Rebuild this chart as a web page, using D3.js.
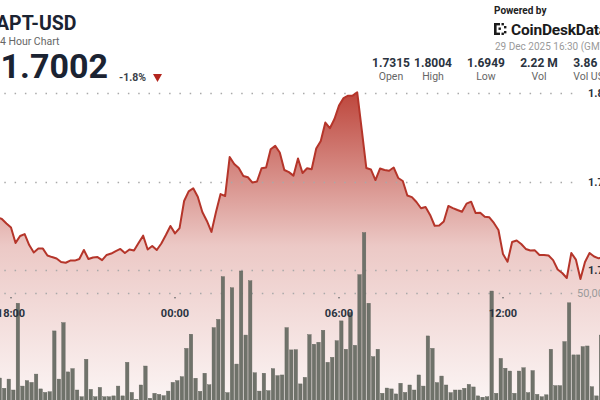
<!DOCTYPE html>
<html>
<head>
<meta charset="utf-8">
<script src="https://cdn.jsdelivr.net/npm/d3@7"></script>
<style>
  body { margin: 0; background: #fff; }
  svg { display: block; font-family: Roboto, "Open Sans", sans-serif; }
</style>
</head>
<body>
<svg width="600" height="400"></svg>
<script>
// 24h of 10 minute candles, 28 Dec 16:30 -> 29 Dec 16:30
var startTime = new Date(2025, 11, 28, 16, 30);
var stepMinutes = 10;

// close prices, one per 10 min (145 points)
var prices = [
  1.7315, 1.7311, 1.7322, 1.7305, 1.7316, 1.7299, 1.7299, 1.7288, 1.7263, 1.7240,
  1.7153, 1.7192, 1.7203, 1.7141, 1.7099, 1.7121, 1.7121, 1.7082, 1.7073, 1.7065,
  1.7045, 1.7041, 1.7053, 1.7053, 1.7062, 1.7113, 1.7062, 1.7071, 1.7073, 1.7056,
  1.7085, 1.7093, 1.7107, 1.7119, 1.7096, 1.7116, 1.7110, 1.7153, 1.7194, 1.7116,
  1.7136, 1.7113, 1.7150, 1.7198, 1.7249, 1.7207, 1.7237, 1.7390, 1.7444, 1.7462,
  1.7414, 1.7328, 1.7277, 1.7215, 1.7328, 1.7429, 1.7418, 1.7638, 1.7599, 1.7576,
  1.7531, 1.7524, 1.7494, 1.7500, 1.7575, 1.7579, 1.7682, 1.7701, 1.7664, 1.7565,
  1.7553, 1.7533, 1.7630, 1.7548, 1.7575, 1.7569, 1.7686, 1.7729, 1.7833, 1.7801,
  1.7853, 1.7929, 1.7971, 1.7985, 1.7985, 1.8004, 1.7791, 1.7576, 1.7568, 1.7508,
  1.7573, 1.7565, 1.7561, 1.7579, 1.7520, 1.7503, 1.7421, 1.7412, 1.7384, 1.7349,
  1.7356, 1.7311, 1.7250, 1.7251, 1.7274, 1.7362, 1.7350, 1.7339, 1.7329, 1.7375,
  1.7386, 1.7322, 1.7324, 1.7301, 1.7298, 1.7266, 1.7226, 1.7090, 1.7047, 1.7158,
  1.7167, 1.7147, 1.7119, 1.7110, 1.7111, 1.7085, 1.7085, 1.7082, 1.7056, 1.7003,
  1.6983, 1.6955, 1.7096, 1.7059, 1.6949, 1.7045, 1.7096, 1.7076, 1.7066, 1.7073,
  1.7045, 1.7028, 1.7017, 1.7011, 1.7002
];

// volume per 10 min (144 bars)
var volumes = [
  8000, 12000, 5000, 9000, 15000, 7000, 11000, 6300, 10500, 5500,
  45300, 7300, 9800, 9000, 12800, 6000, 4400, 4700, 32600, 10500,
  36400, 13800, 15300, 5500, 2400, 19600, 5800, 2400, 6700, 2400,
  2400, 2800, 7300, 2800, 18200, 4400, 1200, 7800, 16500, 1700,
  4000, 3500, 2900, 5000, 9000, 9800, 11600, 24600, 31100, 10900,
  4900, 13200, 7900, 34100, 37900, 57500, 4300, 52400, 17400, 60100,
  30700, 55600, 13400, 5000, 13200, 5200, 15300, 12100, 12400, 34100,
  23900, 24000, 8300, 11300, 30900, 26500, 27400, 32900, 18200, 20500,
  28100, 37200, 24200, 41100, 26000, 58400, 77700, 45300, 20800, 24200,
  4000, 6400, 6000, 3700, 8600, 4400, 7800, 5500, 12400, 7300,
  30300, 24600, 8900, 11900, 7800, 4300, 5500, 5500, 6300, 8100,
  6900, 2800, 2200, 2400, 50900, 4000, 20000, 15500, 14200, 4000,
  14200, 15700, 4300, 14400, 3500, 2400, 3300, 24200, 7500, 7500,
  27700, 45500, 21600, 21600, 25400, 25700, 7000, 2800, 30700, 18000,
  9000, 12000, 6000, 15000
];

var priceTicks = [1.70, 1.75, 1.80];
var volumeTicks = [50000];
var statValues = ["1.7315", "1.8004", "1.6949", "2.22 M", "3.86 M"];
var statLabels = ["Open", "High", "Low", "Vol", "Vol USD"];

var svg = d3.select("svg"),
    width = +svg.attr("width"),
    height = +svg.attr("height");

var times = prices.map(function (d, i) {
  return d3.timeMinute.offset(startTime, i * stepMinutes);
});

// the chart is wider than the view, both ends are cut off
var x = d3.scaleTime()
    .domain([times[0], times[times.length - 1]])
    .range([-30, 626]);

var y = d3.scaleLinear().domain([1.70, 1.80]).range([270, 93]);
var yVol = d3.scaleLinear().domain([0, 50000]).range([402, 293]);

var step = x(times[1]) - x(times[0]);

// gradient under the line
var defs = svg.append("defs");
var grad = defs.append("linearGradient")
    .attr("id", "areaFill")
    .attr("gradientUnits", "userSpaceOnUse")
    .attr("x1", 0).attr("x2", 0)
    .attr("y1", y(1.8004)).attr("y2", height);
grad.append("stop").attr("offset", "0%").attr("stop-color", "#b2261a").attr("stop-opacity", 0.85);
grad.append("stop").attr("offset", "50%").attr("stop-color", "#b2261a").attr("stop-opacity", 0.25);
grad.append("stop").attr("offset", "100%").attr("stop-color", "#b2261a").attr("stop-opacity", 0.05);

var area = d3.area()
    .x(function (d, i) { return x(times[i]); })
    .y0(height)
    .y1(function (d) { return y(d); });

var line = d3.line()
    .x(function (d, i) { return x(times[i]); })
    .y(function (d) { return y(d); });

svg.append("path")
    .datum(prices)
    .attr("fill", "url(#areaFill)")
    .attr("d", area);

// dotted grid lines
function dotted(yy) {
  svg.append("line")
      .attr("x1", 4.3).attr("x2", 577)
      .attr("y1", yy).attr("y2", yy)
      .attr("stroke", "#a9a9a9")
      .attr("stroke-width", 1.3)
      .attr("stroke-dasharray", "1.5,8.8");
}
priceTicks.forEach(function (p) { dotted(Math.round(y(p)) + 0.5); });
volumeTicks.forEach(function (v) { dotted(Math.round(yVol(v)) + 0.5); });

// volume bars
svg.append("g")
  .selectAll("rect")
  .data(volumes)
  .enter().append("rect")
    .attr("x", function (d, i) { return x(times[i]) + 0.6; })
    .attr("y", function (d) { return yVol(d); })
    .attr("width", step - 1.1)
    .attr("height", function (d) { return yVol(0) - yVol(d); })
    .attr("fill", "#6f726a")
    .attr("stroke", "#5f625a")
    .attr("stroke-width", 0.4);

svg.append("path")
    .datum(prices)
    .attr("fill", "none")
    .attr("stroke", "#b5352a")
    .attr("stroke-width", 2)
    .attr("stroke-linejoin", "round")
    .attr("d", line);

// right side labels
svg.append("g").selectAll("text")
  .data(priceTicks)
  .enter().append("text")
    .attr("x", 588)
    .attr("y", function (d) { return y(d) + 4; })
    .attr("font-size", 11)
    .attr("font-weight", 700)
    .attr("fill", "#2a3340")
    .text(function (d) { return d3.format(".2f")(d); });

svg.append("g").selectAll("text")
  .data(volumeTicks)
  .enter().append("text")
    .attr("x", 577)
    .attr("y", function (d) { return yVol(d) + 4; })
    .attr("font-size", 11)
    .attr("fill", "#9a9a9a")
    .text(function (d) { return d3.format(",")(d); });

// time labels
var hourTicks = x.ticks(d3.timeHour.every(6));
var tg = svg.append("g").selectAll("g")
  .data(hourTicks)
  .enter().append("g")
    .attr("transform", function (d) { return "translate(" + x(d) + ",0)"; });
tg.append("rect")
    .attr("x", -0.8).attr("y", 297)
    .attr("width", 1.6).attr("height", 1.4)
    .attr("fill", "#777");
tg.append("text")
    .attr("y", 317)
    .attr("text-anchor", "middle")
    .attr("font-size", 11)
    .attr("font-weight", 700)
    .attr("fill", "#2a3340")
    .text(d3.timeFormat("%H:%M"));

// header, left
svg.append("text")
    .attr("x", -4).attr("y", 30)
    .attr("font-size", 19.5).attr("font-weight", 700)
    .attr("fill", "#1b2332")
    .text("APT-USD");
svg.append("text")
    .attr("x", -6).attr("y", 45)
    .attr("font-size", 10.5)
    .attr("fill", "#666")
    .text("24 Hour Chart");
svg.append("text")
    .attr("x", 108).attr("y", 78)
    .attr("text-anchor", "end")
    .attr("font-size", 34).attr("font-weight", 700)
    .attr("fill", "#1b2332")
    .text(d3.format(".4f")(prices[prices.length - 1]));
svg.append("text")
    .attr("x", 119).attr("y", 81)
    .attr("font-size", 10.5).attr("font-weight", 700)
    .attr("fill", "#3a3f48")
    .text("-1.8%");
svg.append("path")
    .attr("d", "M153,74 L162,74 L157.5,82 Z")
    .attr("fill", "#b3261e");

// header, right
svg.append("text")
    .attr("x", 494).attr("y", 14)
    .attr("font-size", 10).attr("font-weight", 700)
    .attr("fill", "#222")
    .text("Powered by");
var logo = svg.append("g").attr("fill", "#1b1b1b");
[[494, 23, 2.6, 12], [494, 23, 6, 2.4], [494, 32.6, 6, 2.4],
 [498.5, 27.5, 2.4, 2.4], [504, 26, 2.4, 2.4], [504, 31, 2.4, 2.4], [501.5, 23, 2.4, 2.4], [501.5, 32.6, 2.4, 2.4]]
  .forEach(function (r) {
    logo.append("rect").attr("x", r[0]).attr("y", r[1]).attr("width", r[2]).attr("height", r[3]);
  });
svg.append("text")
    .attr("x", 511).attr("y", 35)
    .attr("font-size", 15.5).attr("font-weight", 700)
    .attr("letter-spacing", -0.2)
    .attr("fill", "#1b1b1b")
    .text("CoinDeskData");
svg.append("text")
    .attr("x", 495).attr("y", 50)
    .attr("font-size", 10)
    .attr("fill", "#9a9a9a")
    .text("29 Dec 2025 16:30 (GMT)");

var statX = [391, 433, 486, 539, 592];
svg.append("g").selectAll("text")
  .data(statValues)
  .enter().append("text")
    .attr("x", function (d, i) { return statX[i]; })
    .attr("y", 67)
    .attr("text-anchor", "middle")
    .attr("font-size", 12).attr("font-weight", 700)
    .attr("fill", "#2a3340")
    .text(function (d) { return d; });
svg.append("g").selectAll("text")
  .data(statLabels)
  .enter().append("text")
    .attr("x", function (d, i) { return statX[i]; })
    .attr("y", 80)
    .attr("text-anchor", "middle")
    .attr("font-size", 10.5)
    .attr("fill", "#666")
    .text(function (d) { return d; });
</script>
</body>
</html>
